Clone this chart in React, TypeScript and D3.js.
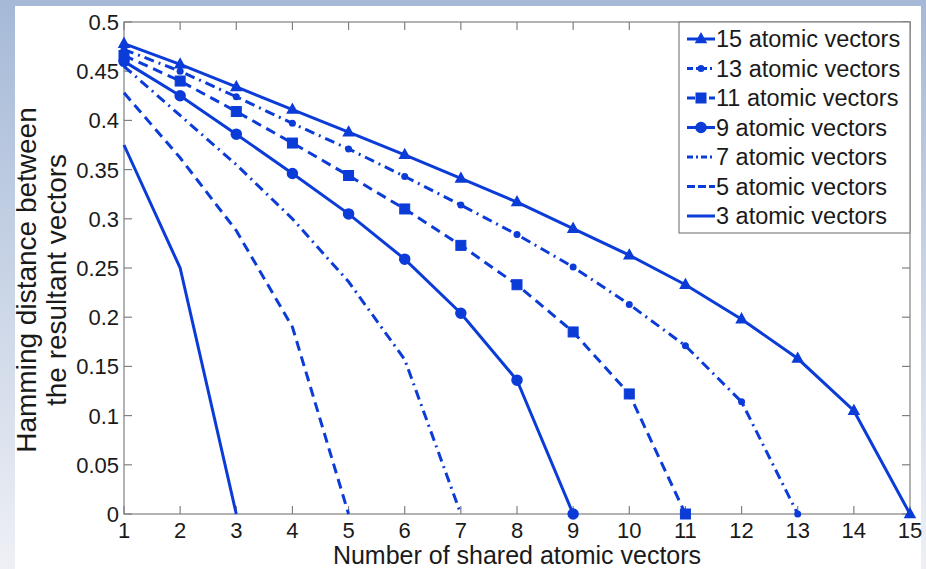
import React, { useEffect, useRef } from 'react';
import * as d3 from 'd3';

// Chart data
const xTicks = [1, 2, 3, 4, 5, 6, 7, 8, 9, 10, 11, 12, 13, 14, 15];
const yTicks = [0, 0.05, 0.1, 0.15, 0.2, 0.25, 0.3, 0.35, 0.4, 0.45, 0.5];
const yTickLabels = ['0', '0.05', '0.1', '0.15', '0.2', '0.25', '0.3', '0.35', '0.4', '0.45', '0.5'];

const seriesNames = [
  '15 atomic vectors',
  '13 atomic vectors',
  '11 atomic vectors',
  '9 atomic vectors',
  '7 atomic vectors',
  '5 atomic vectors',
  '3 atomic vectors',
];

const vec15 = [0.478, 0.457, 0.434, 0.411, 0.388, 0.365, 0.341, 0.317, 0.290, 0.263, 0.233, 0.198, 0.158, 0.105, 0];
const vec13 = [0.472, 0.450, 0.424, 0.397, 0.371, 0.343, 0.314, 0.284, 0.251, 0.213, 0.171, 0.114, 0];
const vec11 = [0.466, 0.440, 0.409, 0.377, 0.344, 0.310, 0.273, 0.233, 0.185, 0.122, 0];
const vec9 = [0.460, 0.425, 0.386, 0.346, 0.305, 0.259, 0.204, 0.136, 0];
const vec7 = [0.455, 0.405, 0.355, 0.300, 0.236, 0.157, 0];
const vec5 = [0.428, 0.362, 0.288, 0.190, 0];
const vec3 = [0.375, 0.250, 0];

const seriesValues = [vec15, vec13, vec11, vec9, vec7, vec5, vec3];
// line style and marker for each series
const seriesDash = ['', '10,5,2,5', '10,6', '', '10,5,2,5', '10,6', ''];
const seriesMarker = ['triangle', 'dot', 'square', 'circle', 'none', 'none', 'none'];

const BLUE = '#0b3cd8';
const AXIS = '#808080';
const FONT = '"Liberation Sans", Arial, sans-serif';

function drawMarker(g, kind, x, y) {
  if (kind === 'triangle') {
    g.append('path')
      .attr('d', `M${x},${y - 5.5}L${x + 5},${y + 3.5}L${x - 5},${y + 3.5}Z`)
      .attr('fill', BLUE).attr('stroke', BLUE).attr('stroke-width', 1.5);
  } else if (kind === 'dot') {
    g.append('circle').attr('cx', x).attr('cy', y).attr('r', 3.5).attr('fill', BLUE);
  } else if (kind === 'square') {
    g.append('rect').attr('x', x - 5).attr('y', y - 5).attr('width', 10).attr('height', 10)
      .attr('fill', BLUE).attr('stroke', BLUE).attr('stroke-width', 1);
  } else if (kind === 'circle') {
    g.append('circle').attr('cx', x).attr('cy', y).attr('r', 5)
      .attr('fill', BLUE).attr('stroke', BLUE).attr('stroke-width', 1.5);
  }
}

function App() {
  const ref = useRef(null);

  useEffect(() => {
    const width = 926;
    const height = 569;
    const margin = { top: 22, right: 16, bottom: 55, left: 124 };

    const svg = d3.select(ref.current);
    svg.selectAll('*').remove();

    // slide background
    const defs = svg.append('defs');
    const grad = defs.append('linearGradient').attr('id', 'bg').attr('x1', 0).attr('y1', 0).attr('x2', 0).attr('y2', 1);
    grad.append('stop').attr('offset', '0%').attr('stop-color', '#a5b9d7');
    grad.append('stop').attr('offset', '100%').attr('stop-color', '#eef0f5');
    svg.append('rect').attr('width', width).attr('height', height).attr('fill', 'url(#bg)');
    svg.append('rect').attr('x', 15).attr('y', 6).attr('width', 906).attr('height', height - 6).attr('fill', '#ffffff');

    const x = d3.scaleLinear().domain([1, 15]).range([margin.left, width - margin.right]);
    const y = d3.scaleLinear().domain([0, 0.5]).range([height - margin.bottom, margin.top]);
    const [x0, x1] = x.range();
    const [yb, yt] = y.range();

    // axes box + inward ticks
    const ax = svg.append('g').attr('stroke', AXIS).attr('stroke-width', 1.2).attr('fill', 'none');
    ax.append('rect').attr('x', x0).attr('y', yt).attr('width', x1 - x0).attr('height', yb - yt);
    xTicks.forEach(t => {
      ax.append('line').attr('x1', x(t)).attr('x2', x(t)).attr('y1', yb).attr('y2', yb - 8);
      ax.append('line').attr('x1', x(t)).attr('x2', x(t)).attr('y1', yt).attr('y2', yt + 8);
    });
    yTicks.forEach(t => {
      ax.append('line').attr('x1', x0).attr('x2', x0 + 8).attr('y1', y(t)).attr('y2', y(t));
      ax.append('line').attr('x1', x1).attr('x2', x1 - 8).attr('y1', y(t)).attr('y2', y(t));
    });

    // tick labels
    svg.append('g').selectAll('text').data(xTicks).enter().append('text')
      .attr('x', d => x(d)).attr('y', yb + 24)
      .attr('text-anchor', 'middle').attr('font-family', FONT).attr('font-size', 22).attr('fill', '#1a1a1a')
      .text(d => d);
    svg.append('g').selectAll('text').data(yTicks).enter().append('text')
      .attr('x', x0 - 5).attr('y', d => y(d) + 8)
      .attr('text-anchor', 'end').attr('font-family', FONT).attr('font-size', 22).attr('fill', '#1a1a1a')
      .text((d, i) => yTickLabels[i]);

    // axis titles
    svg.append('text').attr('x', (x0 + x1) / 2).attr('y', 564)
      .attr('text-anchor', 'middle').attr('font-family', FONT).attr('font-size', 25).attr('fill', '#1a1a1a')
      .text('Number of shared atomic vectors');
    const yl = svg.append('text').attr('transform', `translate(36, ${(yt + yb) / 2 + 12}) rotate(-90)`)
      .attr('text-anchor', 'middle').attr('font-family', FONT).attr('font-size', 28).attr('fill', '#1a1a1a');
    yl.append('tspan').attr('x', 0).attr('dy', 0).text('Hamming distance between');
    yl.append('tspan').attr('x', 0).attr('dy', 30).text('the resultant vectors');

    // series
    const line = d3.line().x((d, i) => x(i + 1)).y(d => y(d));
    const plot = svg.append('g');
    seriesValues.forEach((vals, s) => {
      plot.append('path').attr('d', line(vals))
        .attr('fill', 'none').attr('stroke', BLUE).attr('stroke-width', 3)
        .attr('stroke-dasharray', seriesDash[s] || null);
      vals.forEach((v, i) => drawMarker(plot, seriesMarker[s], x(i + 1), y(v)));
    });

    // legend
    const lx = 679, ly = yt, lw = x1 - lx, lh = 211;
    const leg = svg.append('g');
    leg.append('rect').attr('x', lx).attr('y', ly).attr('width', lw).attr('height', lh)
      .attr('fill', '#ffffff').attr('stroke', AXIS).attr('stroke-width', 1.2);
    seriesNames.forEach((name, s) => {
      const cy = ly + 17 + s * 29.5;
      leg.append('line').attr('x1', lx + 8).attr('x2', lx + 36).attr('y1', cy).attr('y2', cy)
        .attr('stroke', BLUE).attr('stroke-width', 3).attr('stroke-dasharray', seriesDash[s] ? (seriesDash[s] === '10,6' ? '8,3' : '6,3,2,3') : null);
      drawMarker(leg, seriesMarker[s], lx + 22, cy);
      leg.append('text').attr('x', lx + 37).attr('y', cy + 8)
        .attr('font-family', FONT).attr('font-size', 23.5).attr('fill', '#1a1a1a').text(name);
    });
  }, []);

  return (
    <svg ref={ref} width={926} height={569} style={{ position: 'absolute', left: 0, top: 0, display: 'block' }} />
  );
}

export default App;
